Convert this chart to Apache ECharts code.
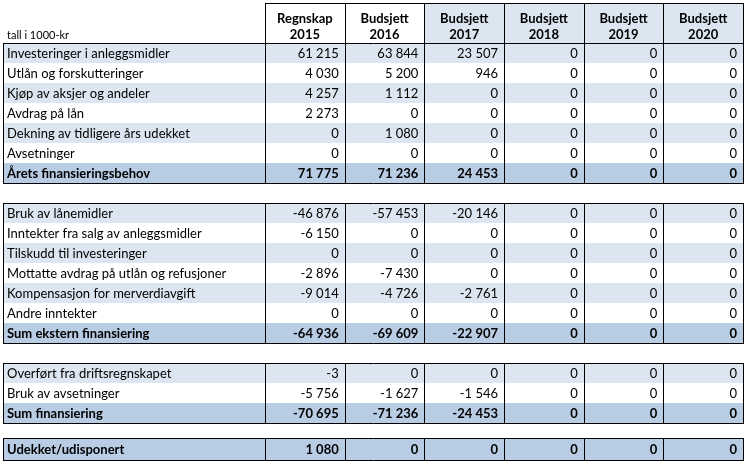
<!DOCTYPE html>
<html><head><meta charset="utf-8">
<script src="https://cdn.jsdelivr.net/npm/echarts@6/dist/echarts.min.js"></script>
<style>html,body{margin:0;padding:0;background:#fff}#c{width:749px;height:468px}</style>
</head><body><div id="c"></div>
<script>
// ---------- data ----------
const unitLabel = 'tall i 1000-kr';
const headerTop = ['Regnskap', 'Budsjett', 'Budsjett', 'Budsjett', 'Budsjett', 'Budsjett'];
const years = ['2015', '2016', '2017', '2018', '2019', '2020'];

const block1Labels = ['Investeringer i anleggsmidler', 'Utlån og forskutteringer', 'Kjøp av aksjer og andeler',
  'Avdrag på lån', 'Dekning av tidligere års udekket', 'Avsetninger', 'Årets finansieringsbehov'];
const block1Values = [
  [61215, 63844, 23507, 0, 0, 0],
  [4030, 5200, 946, 0, 0, 0],
  [4257, 1112, 0, 0, 0, 0],
  [2273, 0, 0, 0, 0, 0],
  [0, 1080, 0, 0, 0, 0],
  [0, 0, 0, 0, 0, 0],
  [71775, 71236, 24453, 0, 0, 0]
];
const block2Labels = ['Bruk av lånemidler', 'Inntekter fra salg av anleggsmidler', 'Tilskudd til investeringer',
  'Mottatte avdrag på utlån og refusjoner', 'Kompensasjon for merverdiavgift', 'Andre inntekter', 'Sum ekstern finansiering'];
const block2Values = [
  [-46876, -57453, -20146, 0, 0, 0],
  [-6150, 0, 0, 0, 0, 0],
  [0, 0, 0, 0, 0, 0],
  [-2896, -7430, 0, 0, 0, 0],
  [-9014, -4726, -2761, 0, 0, 0],
  [0, 0, 0, 0, 0, 0],
  [-64936, -69609, -22907, 0, 0, 0]
];
const block3Labels = ['Overført fra driftsregnskapet', 'Bruk av avsetninger', 'Sum finansiering'];
const block3Values = [
  [-3, 0, 0, 0, 0, 0],
  [-5756, -1627, -1546, 0, 0, 0],
  [-70695, -71236, -24453, 0, 0, 0]
];
const block4Labels = ['Udekket/udisponert'];
const block4Values = [
  [1080, 0, 0, 0, 0, 0]
];

// ---------- layout / style ----------
const LABEL_W = 3.29;                 // label column width in column units
const X_MAX = LABEL_W + 6;
const EDGES = [0, LABEL_W, LABEL_W + 1, LABEL_W + 2, LABEL_W + 3, LABEL_W + 4, LABEL_W + 5, LABEL_W + 6];
const HEADER_H = 2;
const GAPS = [0, 1, 1, 0.75];
const LAST_ROW_H = [1, 1, 1, 1.1];
const Y_MAX = 23.25;
const FONT = 'Lato, "Noto Sans", sans-serif';
const FS = '13px ';
const C_BLUE = '#dce6f1', C_TOTAL = '#b8cce4', C_WHITE = '#ffffff', C_LINE = '#000000';

const blocks = [
  [block1Labels, block1Values], [block2Labels, block2Values],
  [block3Labels, block3Values], [block4Labels, block4Values]
];
const rows = [];
let cursor = HEADER_H;
blocks.forEach(([labels, values], b) => {
  cursor += GAPS[b];
  labels.forEach((lab, i) => {
    const last = i === labels.length - 1;
    const h = last ? LAST_ROW_H[b] : 1;
    rows.push({label: lab, values: values[i], first: i === 0, last, total: last, stripe: i % 2 === 0, top: cursor, h});
    cursor += h;
  });
});

function fmt(n) {
  const s = String(Math.abs(n)).replace(/\B(?=(\d{3})+(?!\d))/g, ' ');
  return (n < 0 ? '-' : '') + s;
}
const px = v => Math.round(v) + 0.5;

function vline(x, y0, y1) {
  return {type: 'line', shape: {x1: px(x), y1: Math.round(y0), x2: px(x), y2: Math.round(y1) + 1}, style: {stroke: C_LINE, lineWidth: 1}};
}
function hline(x0, x1, y) {
  return {type: 'line', shape: {x1: Math.round(x0), y1: px(y), x2: Math.round(x1) + 1, y2: px(y)}, style: {stroke: C_LINE, lineWidth: 1}};
}

function renderRow(params, api) {
  const r = rows[params.dataIndex];
  const top = api.value(0), h = api.value(1);
  const y0 = api.coord([0, top])[1], y1 = api.coord([0, top + h])[1];
  const xs = EDGES.map(e => api.coord([e, 0])[0]);
  const ym = (y0 + y1) / 2 + 1;
  const weight = r.total ? 'bold ' : 'normal ';
  const children = [];
  children.push({type: 'rect', shape: {x: xs[0], y: y0, width: xs[7] - xs[0], height: y1 - y0},
    style: {fill: r.total ? C_TOTAL : (r.stripe ? C_BLUE : C_WHITE)}});
  children.push({type: 'text', x: xs[0] + 4, y: ym,
    style: {text: r.label, font: weight + FS + FONT, fill: '#000', align: 'left', verticalAlign: 'middle'}});
  r.values.forEach((v, j) => {
    children.push({type: 'text', x: xs[j + 2] - 6, y: ym,
      style: {text: fmt(v), font: weight + FS + FONT, fill: '#000', align: 'right', verticalAlign: 'middle'}});
  });
  xs.forEach(x => children.push(vline(x, y0, y1)));
  if (r.first) children.push(hline(xs[0], xs[7], y0));
  if (r.last) children.push(hline(xs[0], xs[7], y1));
  return {type: 'group', children};
}

function renderHeader(params, api) {
  const y0 = api.coord([0, 0])[1], y1 = api.coord([0, HEADER_H])[1];
  const yA = api.coord([0, 0.8])[1], yB = api.coord([0, 1.6])[1], yU = api.coord([0, 1.6])[1];
  const xs = EDGES.map(e => api.coord([e, 0])[0]);
  const children = [];
  children.push({type: 'text', x: xs[0] + 4, y: yU,
    style: {text: unitLabel, font: '11px ' + FONT, fill: '#000', align: 'left', verticalAlign: 'middle'}});
  for (let j = 0; j < 6; j++) {
    const xl = xs[j + 1], xr = xs[j + 2];
    children.push({type: 'rect', shape: {x: xl, y: y0, width: xr - xl, height: y1 - y0},
      style: {fill: j < 2 ? C_WHITE : C_BLUE}});
    children.push({type: 'text', x: (xl + xr) / 2, y: yA,
      style: {text: headerTop[j], font: 'bold ' + FS + FONT, fill: '#000', align: 'center', verticalAlign: 'middle'}});
    children.push({type: 'text', x: (xl + xr) / 2, y: yB,
      style: {text: years[j], font: 'bold ' + FS + FONT, fill: '#000', align: 'center', verticalAlign: 'middle'}});
  }
  for (let j = 1; j < 8; j++) children.push(vline(xs[j], y0, y1));
  children.push(hline(xs[1], xs[7], y0));
  return {type: 'group', children};
}

const chart = echarts.init(document.getElementById('c'));
chart.setOption({
  animation: false,
  backgroundColor: '#fff',
  grid: {left: 3, right: 6, top: 3, bottom: 0},
  xAxis: {type: 'value', min: 0, max: X_MAX, show: false},
  yAxis: {type: 'value', min: 0, max: Y_MAX, inverse: true, show: false},
  series: [
    {type: 'custom', clip: false, renderItem: renderHeader, data: [[0]]},
    {type: 'custom', clip: false, renderItem: renderRow, data: rows.map(r => [r.top, r.h])}
  ]
});
</script></body></html>
